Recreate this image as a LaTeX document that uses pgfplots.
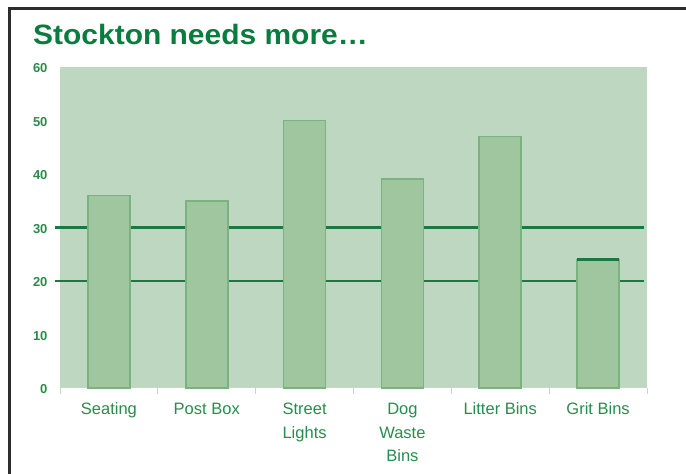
\documentclass[border=0pt]{standalone}
\usepackage{fontspec}
\setmainfont{Liberation Sans}
\usepackage{pgfplots}
\pgfplotsset{compat=1.18}
\definecolor{bgc}{RGB}{189,215,192}
\definecolor{barc}{RGB}{160,198,160}
\definecolor{edgec}{RGB}{122,178,128}
\definecolor{gridc}{RGB}{24,122,64}
\definecolor{titlec}{RGB}{10,125,62}
\definecolor{labc}{RGB}{40,140,75}
\definecolor{axc}{RGB}{200,214,202}
\begin{document}
\begin{tikzpicture}[x=1pt,y=1pt]
\useasboundingbox (0,0) rectangle (686,474);
\draw[line width=3pt,color={rgb,255:red,45;green,45;blue,45}] (9,0) -- (9,465) -- (686,465);
\node[anchor=base west,text=titlec,inner sep=0pt] at (33,429) {\scalebox{1.07}[1]{\fontsize{28}{32}\selectfont\bfseries Stockton needs more\ldots}};
\begin{axis}[
  at={(60pt,86pt)}, anchor=south west,
  scale only axis, width=587pt, height=321pt,
  xmin=-0.5, xmax=5.5, ymin=0, ymax=60,
  axis background/.style={fill=bgc},
  separate axis lines,
  x axis line style={draw=axc, line width=1pt},
  y axis line style={draw=none},
  axis x line*=bottom,
  axis y line*=left,
  ytick={0,10,...,60},
  major tick length=0pt,
  xtick={0,...,5},
  xticklabels={Seating,Post Box,Street\\Lights,Dog\\Waste\\Bins,Litter Bins,Grit Bins},
  typeset ticklabels with strut,
  minor xtick={-0.5,0.5,...,5.5},
  minor tick length=6pt,
  minor tick style={draw=axc, line width=1pt},
  tick align=outside,
  xticklabel style={text=labc, align=center, anchor=north, yshift=-7pt,
    font=\fontsize{16.5}{23.5}\selectfont},
  yticklabel style={text=labc, anchor=east, xshift=-9pt, yshift=-3pt,
    font=\fontsize{13}{14}\selectfont\bfseries},
  /pgf/number format/assume math mode=true,
  clip=false,
]
\addplot[gridc, line width=2.3pt, forget plot] coordinates {(-0.551,30) (5.471,30)};
\addplot[gridc, line width=2.3pt, forget plot] coordinates {(-0.551,20) (5.471,20)};
\addplot[ybar, bar width=42pt, bar shift=0pt, fill=barc, draw=edgec, line width=1.8pt]
  coordinates {(0,36) (1,35) (2,50) (3,39) (4,47) (5,24)};
\addplot[gridc, line width=2.3pt, forget plot] coordinates {(4.785,24) (5.215,24)};
\end{axis}
\end{tikzpicture}
\end{document}
